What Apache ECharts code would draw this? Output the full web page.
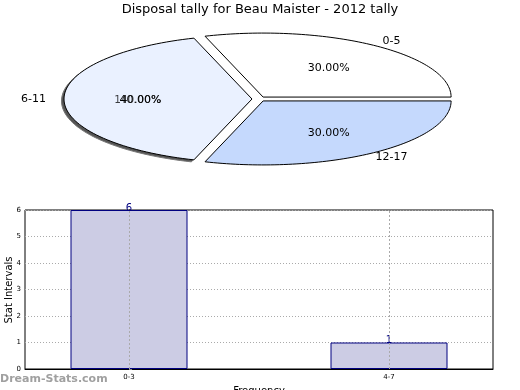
<!DOCTYPE html>
<html><head><meta charset="utf-8">
<script src="https://cdn.jsdelivr.net/npm/echarts@6/dist/echarts.min.js"></script>
<style>html,body{margin:0;padding:0;background:#fff}#c{width:520px;height:390px}</style>
</head><body><div id="c"></div>
<script>
const titleText = 'Disposal tally for Beau Maister - 2012 tally';
const pieNames = ['0-5', '6-11', '12-17'];
const pieValues = [30, 40, 30];
const pieColors = ['#ffffff', '#eaf1ff', '#c5d9fd'];
const barCategories = ['0-3', '4-7'];
const barValues = [6, 1];
const yMax = 6;

const FONT = '"DejaVu Sans", sans-serif';
const total = pieValues.reduce((a, b) => a + b, 0);
const barIdx = barCategories.map((c, i) => i);

function renderPie(params, api) {
  const i = params.dataIndex;
  let start = 0;
  for (let j = 0; j < i; j++) start += pieValues[j];
  const a0 = start / total * Math.PI * 2;
  const a1 = (start + pieValues[i]) / total * Math.PI * 2;
  const mid = (a0 + a1) / 2;
  const cx = 259, cy = 99, rx = 188, ry = 64, ex = 7;
  const ox = cx + ex * Math.cos(mid);
  const oy = cy - ex * Math.sin(mid) * ry / rx;
  const pts = [[ox, oy]];
  const N = 80;
  for (let k = 0; k <= N; k++) {
    const a = a0 + (a1 - a0) * k / N;
    pts.push([ox + rx * Math.cos(a), oy - ry * Math.sin(a)]);
  }
  const pct = (pieValues[i] / total * 100).toFixed(2) + '%';
  const children = [];
  if (i === 1) {
    children.push({
      type: 'polygon', z2: 0,
      shape: { points: pts.map(p => [p[0] - 2.5, p[1] + 2]) },
      style: { fill: '#555', stroke: '#777', lineWidth: 1 }
    });
  }
  children.push({
    type: 'polygon', z2: 1,
    shape: { points: pts },
    style: { fill: pieColors[i], stroke: '#000', lineWidth: 1 }
  });
  const px = cx + rx * 0.63 * Math.cos(mid), py = cy - ry * 0.63 * Math.sin(mid) + 1.5;
  children.push({
    type: 'text', x: px, y: py, z2: 10,
    style: { text: pct, fill: '#000', font: '11px ' + FONT, align: 'center', verticalAlign: 'middle' }
  });
  if (i === 1) {
    children.push({
      type: 'text', x: px - 3, y: py, z2: 10,
      style: { text: '1' + pct, fill: 'rgba(0,0,0,0.75)', font: '10.5px ' + FONT, align: 'center', verticalAlign: 'middle' }
    });
  }
  const nx = cx + rx * 1.2 * Math.cos(mid), ny = cy - ry * 1.12 * Math.sin(mid);
  children.push({
    type: 'text', x: nx, y: ny, z2: 10,
    style: { text: pieNames[i], fill: '#000', font: '11px ' + FONT, align: 'center', verticalAlign: 'middle' }
  });
  return { type: 'group', children };
}

const chart = echarts.init(document.getElementById('c'), null, { renderer: 'canvas' });
chart.setOption({
  animation: false,
  backgroundColor: '#fff',
  title: {
    text: titleText, left: 'center', top: 3, padding: 0,
    textStyle: { fontFamily: FONT, fontSize: 13, fontWeight: 'normal', color: '#000' }
  },
  graphic: [{
    type: 'text', left: 0, top: 374,
    style: { text: 'Dream-Stats.com', fill: '#a0a0a0', font: 'bold 11px ' + FONT }
  }, {
    type: 'text', x: 9, y: 290, rotation: Math.PI / 2,
    style: { text: 'Stat Intervals', fill: '#000', font: '10px ' + FONT, align: 'center', verticalAlign: 'middle' }
  }],
  grid: {
    left: 25, right: 27, top: 210, bottom: 21,
    outerBoundsMode: 'none', containLabel: false,
    show: true, borderColor: '#000', borderWidth: 1, backgroundColor: 'transparent'
  },
  xAxis: {
    type: 'value', min: -0.4, max: barCategories.length - 0.6,
    name: 'Frequency', nameLocation: 'middle', nameGap: 17,
    nameTextStyle: { fontFamily: FONT, fontSize: 10, color: '#000' },
    axisLine: { lineStyle: { color: '#000' } },
    axisTick: { show: false },
    axisLabel: {
      fontFamily: FONT, fontSize: 7, color: '#000', margin: 5,
      customValues: barIdx,
      formatter: v => barCategories[Math.round(v)] || ''
    },
    splitLine: { show: false }
  },
  yAxis: {
    type: 'value', min: 0, max: yMax, interval: 1,
    axisLine: { show: true, lineStyle: { color: '#000' } },
    axisTick: { show: true, inside: true, length: 3, lineStyle: { color: '#888' } },
    axisLabel: { fontFamily: FONT, fontSize: 7, color: '#000', margin: 4 },
    splitLine: { show: true, lineStyle: { color: '#aaa', type: [1, 2], width: 1 } }
  },
  series: [{
    type: 'custom',
    coordinateSystem: 'none',
    renderItem: renderPie,
    data: pieValues,
    silent: true
  }, {
    type: 'bar',
    data: barValues.map((v, i) => [barIdx[i], v]),
    barWidth: 117,
    itemStyle: { color: '#ccccE4', borderColor: '#000080', borderWidth: 1 },
    label: { show: true, position: 'top', distance: -3, color: '#000080', fontFamily: FONT, fontSize: 10 },
    markLine: {
      silent: true, symbol: 'none', label: { show: false },
      lineStyle: { color: '#aaa', type: [2, 2], width: 1 },
      data: barIdx.map(x => ({ xAxis: x }))
    }
  }]
});
</script>
</body></html>
